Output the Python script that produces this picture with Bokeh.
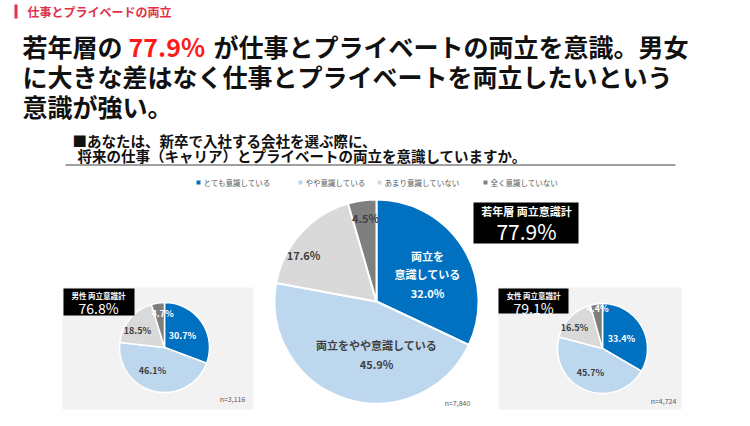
import math
from bokeh.plotting import figure
from bokeh.models import Range1d, ColumnDataSource
from bokeh.core.properties import value
from bokeh.embed import file_html
from bokeh.resources import INLINE

# ---------------- data ----------------
categories = ["とても意識している", "やや意識している", "あまり意識していない", "全く意識していない"]
young_values = [32.0, 45.9, 17.6, 4.5]
male_values = [30.7, 46.1, 18.5, 4.7]
female_values = [33.4, 45.7, 16.5, 4.4]
young_total = 77.9
male_total = 76.8
female_total = 79.1
young_n = "n=7,840"
male_n = "n=3,116"
female_n = "n=4,724"

colors = ["#0070C0", "#BDD7EE", "#D9D9D9", "#7F7F7F"]
FONT = "Noto Sans CJK JP"

p = figure(width=734, height=410, x_range=Range1d(0, 734), y_range=Range1d(16, 426),
           output_backend="svg", toolbar_location=None, min_border=0)
p.axis.visible = False
p.grid.visible = False
p.outline_line_color = None
p.background_fill_color = "white"
p.border_fill_color = "white"


def Y(v):
    return 426 - v


def txt(x, y, s, size, color="#000000", bold=True, align="left"):
    p.text(x=[x], y=[Y(y)], text=[s], text_font=value(FONT),
           text_font_size=value(f"{size}px"),
           text_font_style="bold" if bold else "normal",
           text_color=color, text_align=align, text_baseline="middle")


def box(x0, y0, x1, y1, color):
    p.quad(left=[x0], right=[x1], top=[Y(y0)], bottom=[Y(y1)],
           fill_color=color, line_color=None)


def pie(cx, cy, r, vals, lw):
    total = sum(vals)
    starts, ends, acc = [], [], 0.0
    for v in vals:
        starts.append(math.pi / 2 - 2 * math.pi * acc / total)
        acc += v
        ends.append(math.pi / 2 - 2 * math.pi * acc / total)
    src = ColumnDataSource(dict(x=[cx] * len(vals), y=[Y(cy)] * len(vals),
                                s=starts, e=ends, c=colors))
    p.wedge(x="x", y="y", radius=r, start_angle="s", end_angle="e",
            direction="clock", fill_color="c", line_color="white",
            line_width=lw, source=src)


def pct(v):
    return f"{v:.1f}%"


# ---------------- header ----------------
box(14, 4, 17, 18, "#E0304A")
txt(27, 11, "仕事とプライベードの両立", 12, "#E0304A")

# ---------------- headline ----------------
txt(22, 45, "若年層の", 25, "#111111")
txt(128, 45, "77.9%", 25, "#FF1A1A")
txt(213, 45, "が仕事とプライベートの両立を意識。男女", 25, "#111111")
txt(22, 75, "に大きな差はなく仕事とプライベートを両立したいという", 25, "#111111")
txt(22, 105, "意識が強い。", 25, "#111111")

# ---------------- question ----------------
txt(72, 140, "■あなたは、新卒で入社する会社を選ぶ際に、", 14.5, "#111111")
txt(77, 155, "将来の仕事（キャリア）とプライベートの両立を意識していますか。", 14.5, "#111111")
p.line(x=[65, 675], y=[Y(164.5), Y(164.5)], line_color="#808080", line_width=1.5)

# ---------------- legend ----------------
leg_x = [198, 300, 379, 485]
p.scatter(x=leg_x, y=[Y(182)] * 4, marker="square", size=4, fill_color=colors, line_color=None)
for lx, cat in zip(leg_x, categories):
    txt(lx + 5, 182, cat, 7.5, "#595959", bold=False)

# ---------------- side panels ----------------
box(62, 287, 253, 409, "#F2F2F2")
box(498, 287, 681, 409, "#F2F2F2")

# ---------------- main pie ----------------
pie(376, 301, 102, young_values, 2)
txt(427, 255, "両立を", 11, "white", align="center")
txt(427, 273, "意識している", 11, "white", align="center")
txt(427, 292, pct(young_values[0]), 11, "white", align="center")
txt(376, 344, "両立をやや意識している", 11, "#404040", align="center")
txt(376, 363, pct(young_values[1]), 11, "#404040", align="center")
txt(303, 254, pct(young_values[2]), 11, "#404040", align="center")
txt(365, 217, pct(young_values[3]), 11, "#404040", align="center")
txt(457, 402, young_n, 7, "#595959", bold=False, align="center")

box(473, 202, 578, 243, "#000000")
txt(526, 210, "若年層 両立意識計", 11, "white", align="center")
txt(526, 230, pct(young_total), 21, "white", bold=False, align="center")

# ---------------- male pie ----------------
pie(164, 347, 45, male_values, 1.5)
txt(182, 335, pct(male_values[0]), 9, "white", align="center")
txt(152, 370, pct(male_values[1]), 9, "#404040", align="center")
txt(137, 330, pct(male_values[2]), 9, "#404040", align="center")
txt(162, 313, pct(male_values[3]), 9, "white", align="center")
txt(232, 398, male_n, 7, "#595959", bold=False, align="center")

box(63, 288, 134, 315, "#000000")
txt(98, 295, "男性 両立意識計", 7.5, "white", align="center")
txt(98, 307, pct(male_total), 14, "white", bold=False, align="center")

# ---------------- female pie ----------------
pie(602, 348, 45, female_values, 1.5)
txt(621, 338, pct(female_values[0]), 9, "white", align="center")
txt(590, 372, pct(female_values[1]), 9, "#404040", align="center")
txt(574, 327, pct(female_values[2]), 9, "#404040", align="center")
txt(597, 308, pct(female_values[3]), 9, "white", align="center")
txt(663, 400, female_n, 7, "#595959", bold=False, align="center")

box(498, 288, 568, 313, "#000000")
txt(533, 295, "女性 両立意識計", 7.5, "white", align="center")
txt(533, 307, pct(female_total), 14, "white", bold=False, align="center")

open("out.html", "w").write(file_html(p, INLINE))
